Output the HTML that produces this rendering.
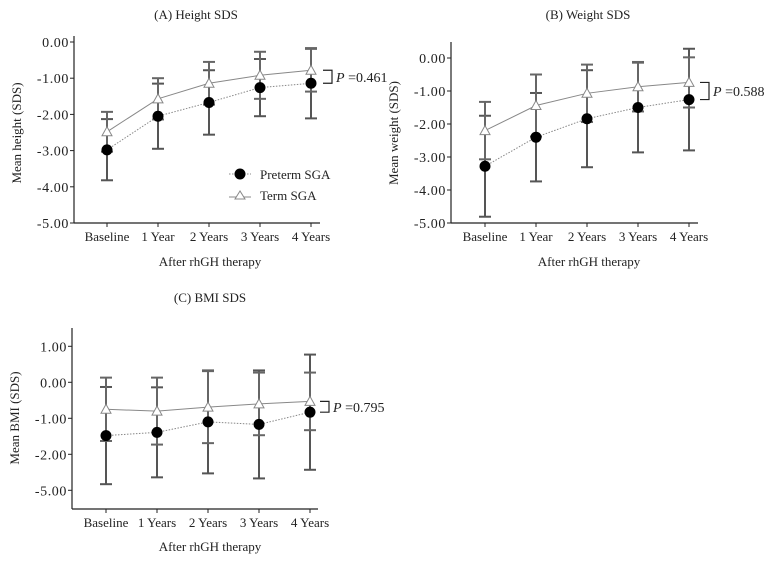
<!DOCTYPE html>
<html><head><meta charset="utf-8">
<style>
html,body{margin:0;padding:0;background:#fff;}
svg{display:block;font-family:"Liberation Serif",serif;}
</style></head>
<body>
<svg id="chart" width="770" height="563" viewBox="0 0 770 563" xmlns="http://www.w3.org/2000/svg"></svg>
<script>
// ---- Panel A: Height SDS ----
const catsA = ["Baseline","1 Year","2 Years","3 Years","4 Years"];
const preA = [-2.98,-2.05,-1.67,-1.26,-1.14];
const preLoA = [-3.82,-2.95,-2.56,-2.05,-2.11];
const preHiA = [-2.13,-1.15,-0.78,-0.47,-0.17];
const termA = [-2.48,-1.57,-1.14,-0.92,-0.78];
const termLoA = [-3.03,-2.14,-1.73,-1.57,-1.37];
const termHiA = [-1.93,-1.0,-0.55,-0.27,-0.19];
const ticksA = [0,-1,-2,-3,-4,-5];
const tickLabelsA = ["0.00","-1.00","-2.00","-3.00","-4.00","-5.00"];
// ---- Panel B: Weight SDS ----
const catsB = ["Baseline","1 Year","2 Years","3 Years","4 Years"];
const preB = [-3.28,-2.4,-1.84,-1.5,-1.26];
const preLoB = [-4.81,-3.74,-3.31,-2.86,-2.8];
const preHiB = [-1.75,-1.06,-0.37,-0.14,0.28];
const termB = [-2.2,-1.44,-1.07,-0.87,-0.74];
const termLoB = [-3.07,-2.38,-1.94,-1.62,-1.5];
const termHiB = [-1.33,-0.5,-0.2,-0.12,0.02];
const ticksB = [0,-1,-2,-3,-4,-5];
const tickLabelsB = ["0.00","-1.00","-2.00","-3.00","-4.00","-5.00"];
// ---- Panel C: BMI SDS ----
const catsC = ["Baseline","1 Years","2 Years","3 Years","4 Years"];
const preC = [-1.48,-1.39,-1.1,-1.17,-0.83];
const preLoC = [-2.83,-2.64,-2.53,-2.67,-2.43];
const preHiC = [-0.13,-0.14,0.33,0.33,0.77];
const termC = [-0.75,-0.8,-0.69,-0.6,-0.53];
const termLoC = [-1.63,-1.73,-1.69,-1.47,-1.33];
const termHiC = [0.13,0.13,0.31,0.27,0.27];
const ticksC = [1,0,-1,-2,-3];
const tickLabelsC = ["1.00","0.00","-1.00","-2.00","-5.00"];

const NS="http://www.w3.org/2000/svg";
const svg=document.getElementById('chart');
function mk(tag,attrs,parent){const e=document.createElementNS(NS,tag);for(const k in attrs)e.setAttribute(k,attrs[k]);(parent||svg).appendChild(e);return e;}

function panel(cfg){
  const g=mk('g',{});
  
  
  const y=v=>cfg.y0+(cfg.zeroVal-v)*cfg.ppu;
  const x=i=>cfg.x0+i*cfg.step;
  const t=mk('text',{x:cfg.titleX,y:cfg.titleY,'font-size':13,'text-anchor':'middle',fill:'#222'},g);
  t.textContent=cfg.title;
  
  
  const ya=mk('line',{x1:cfg.ax,y1:cfg.axTop,x2:cfg.ax,y2:cfg.axBot,stroke:'#222','stroke-width':1.2},g);
  
  
  const xa=mk('line',{x1:cfg.ax,y1:cfg.axBot,x2:cfg.axRight,y2:cfg.axBot,stroke:'#222','stroke-width':1.2},g);
  
  
  cfg.ticks.forEach((v,i)=>{
    mk('line',{x1:cfg.ax-4,y1:y(v),x2:cfg.ax,y2:y(v),stroke:'#222','stroke-width':1},g);
    const tl=mk('text',{x:cfg.ax-5,y:y(v)+5,'font-size':14,'letter-spacing':0.6,'text-anchor':'end',fill:'#222'},g);
    tl.textContent=cfg.tickLabels[i];
    
    
  });
  cfg.cats.forEach((c,i)=>{
    mk('line',{x1:x(i),y1:cfg.axBot,x2:x(i),y2:cfg.axBot+4,stroke:'#222','stroke-width':1},g);
    const cl=mk('text',{x:x(i),y:cfg.axBot+18,'font-size':13,'text-anchor':'middle',fill:'#222'},g);
    cl.textContent=c;
    
    
  });
  const xt=mk('text',{x:cfg.xTitleX,y:cfg.xTitleY,'font-size':13,'text-anchor':'middle',fill:'#222'},g);
  xt.textContent='After rhGH therapy';
  
  
  const yt=mk('text',{x:0,y:0,'font-size':13,'text-anchor':'middle',fill:'#222',transform:`translate(${cfg.yTitleX},${cfg.yTitleY}) rotate(-90)`},g);
  yt.textContent=cfg.yTitle;
  
  
  function errs(lo,hi,col,nm){
    lo.forEach((l,i)=>{
      const eg=mk('g',{stroke:col,'stroke-width':2},g);
      
      
      mk('line',{x1:x(i),y1:y(l),x2:x(i),y2:y(hi[i])},eg);
      mk('line',{x1:x(i)-6,y1:y(l),x2:x(i)+6,y2:y(l)},eg);
      mk('line',{x1:x(i)-6,y1:y(hi[i]),x2:x(i)+6,y2:y(hi[i])},eg);
    });
  }
  errs(cfg.preLo,cfg.preHi,'#555','preterm-error-bar');
  errs(cfg.termLo,cfg.termHi,'#666','term-error-bar');
  const pl=mk('polyline',{points:cfg.pre.map((v,i)=>x(i)+','+y(v)).join(' '),fill:'none',stroke:'#888','stroke-width':1,'stroke-dasharray':'1.5,1.5'},g);
  
  
  const tlp=mk('polyline',{points:cfg.term.map((v,i)=>x(i)+','+y(v)).join(' '),fill:'none',stroke:'#888','stroke-width':1},g);
  
  
  cfg.pre.forEach((v,i)=>{
    const c=mk('circle',{cx:x(i),cy:y(v),r:5.5,fill:'#000'},g);
    
    
  });
  cfg.term.forEach((v,i)=>{
    const px=x(i),py=y(v);
    const tr=mk('polygon',{points:`${px},${py-5} ${px-5},${py+4} ${px+5},${py+4}`,fill:'#fff',stroke:'#888','stroke-width':1},g);
    
    
  });
  const n=cfg.cats.length-1;
  const by1=y(cfg.term[n]), by2=y(cfg.pre[n]);
  const bx=cfg.bx;
  const br=mk('polyline',{points:`${bx},${by1} ${bx+9},${by1} ${bx+9},${by2} ${bx},${by2}`,fill:'none',stroke:'#222','stroke-width':1.2},g);
  
  
  const pt=mk('text',{x:bx+13,y:(by1+by2)/2+5,'font-size':14,fill:'#222'},g);
  
  
  const ti=mk('tspan',{'font-style':'italic'},pt);ti.textContent='P';
  const tv=mk('tspan',{},pt);tv.textContent=' =0.'+cfg.p;
}

panel({name:'panel-a-height',title:'(A) Height SDS',titleX:196,titleY:19,cats:catsA,pre:preA,preLo:preLoA,preHi:preHiA,term:termA,termLo:termLoA,termHi:termHiA,ticks:ticksA,tickLabels:tickLabelsA,
  ax:74,axTop:36,axBot:223,axRight:320,x0:107,step:51,y0:42,zeroVal:0,ppu:36.2,xTitleX:210,xTitleY:266,yTitleX:21,yTitleY:133,yTitle:'Mean height (SDS)',bx:323,p:'461'});
panel({name:'panel-b-weight',title:'(B) Weight SDS',titleX:588,titleY:19,cats:catsB,pre:preB,preLo:preLoB,preHi:preHiB,term:termB,termLo:termLoB,termHi:termHiB,ticks:ticksB,tickLabels:tickLabelsB,
  ax:451,axTop:42,axBot:223,axRight:698,x0:485,step:51,y0:58,zeroVal:0,ppu:33,xTitleX:589,xTitleY:266,yTitleX:398,yTitleY:133,yTitle:'Mean weight (SDS)',bx:700,p:'588'});
panel({name:'panel-c-bmi',title:'(C) BMI SDS',titleX:210,titleY:302,cats:catsC,pre:preC,preLo:preLoC,preHi:preHiC,term:termC,termLo:termLoC,termHi:termHiC,ticks:ticksC,tickLabels:tickLabelsC,
  ax:72,axTop:328,axBot:509,axRight:318,x0:106,step:51,y0:382.3,zeroVal:0,ppu:36,xTitleX:210,xTitleY:551,yTitleX:19,yTitleY:418,yTitle:'Mean BMI (SDS)',bx:320,p:'795'});

const lg=mk('g',{});


const l1=mk('g',{},lg);


mk('line',{x1:229,y1:174,x2:251,y2:174,stroke:'#888','stroke-dasharray':'1.5,1.5'},l1);
mk('circle',{cx:240,cy:174,r:5.5,fill:'#000'},l1);
const lt1=mk('text',{x:260,y:179,'font-size':13,fill:'#222'},l1);lt1.textContent='Preterm SGA';
const l2=mk('g',{},lg);


mk('line',{x1:229,y1:197,x2:251,y2:197,stroke:'#888'},l2);
mk('polygon',{points:'240,191 235,199 245,199',fill:'#fff',stroke:'#888'},l2);
const lt2=mk('text',{x:260,y:200,'font-size':13,fill:'#222'},l2);lt2.textContent='Term SGA';
</script>
</body></html>
